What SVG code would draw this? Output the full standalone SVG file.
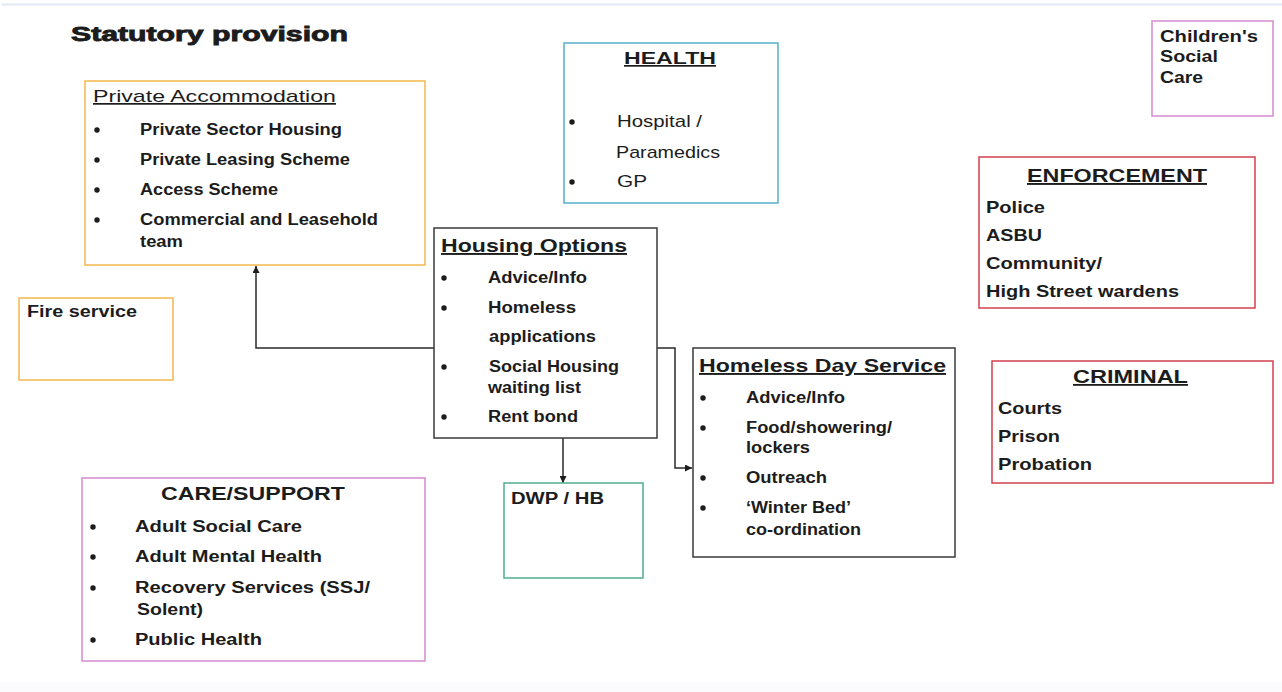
<svg xmlns="http://www.w3.org/2000/svg" width="1282" height="692" viewBox="0 0 1282 692">
<defs>
<style>
text{font-family:"Liberation Sans",Arial,sans-serif;fill:#1c1c1c;}
.b{font-weight:bold;}
.u{text-decoration:underline;}
.box{fill:#fff;stroke-width:1.5;}
.blk{stroke:#3a3a3a;}
.org{stroke:#F3B84E;}
.cyan{stroke:#55B0C8;}
.grn{stroke:#4FAE90;}
.pnk{stroke:#D58ACF;}
.red{stroke:#D2404E;}
.conn{fill:none;stroke:#2a2a2a;stroke-width:1.5;}
.dot{fill:#1c1c1c;}
</style>
<marker id="arr" viewBox="0 0 10 10" refX="10" refY="5" markerWidth="7" markerHeight="7" orient="auto" markerUnits="userSpaceOnUse">
<path d="M0,0 L10,5 L0,10 z" fill="#1c1c1c"/>
</marker>
</defs>
<rect x="0" y="0" width="1282" height="692" fill="#ffffff"/>
<line x1="2" y1="4.5" x2="1282" y2="4.5" stroke="#e2e8f6" stroke-width="2"/>
<rect x="0" y="682" width="1282" height="10" fill="#fbfbfd"/>

<text id="title" class="b" x="71" y="41" font-size="21" textLength="277" lengthAdjust="spacingAndGlyphs" stroke="#1c1c1c" stroke-width="0.9">Statutory provision</text>

<g id="connectors">
<polyline class="conn" points="434,348 256,348 256,266" marker-end="url(#arr)"/>
<line class="conn" x1="563" y1="438" x2="563" y2="483" marker-end="url(#arr)"/>
<polyline class="conn" points="657,348 675,348 675,468 692,468" marker-end="url(#arr)"/>
</g>

<g id="private-accommodation">
<rect class="box org" x="85" y="81" width="340" height="184"/>
<text class="u" x="93" y="102" font-size="17" textLength="243" lengthAdjust="spacingAndGlyphs">Private Accommodation</text>
<circle class="dot" cx="97" cy="130" r="2.7"/>
<circle class="dot" cx="97" cy="160" r="2.7"/>
<circle class="dot" cx="97" cy="190" r="2.7"/>
<circle class="dot" cx="97" cy="220" r="2.7"/>
<text class="b" x="140" y="135" font-size="16" textLength="202" lengthAdjust="spacingAndGlyphs">Private Sector Housing</text>
<text class="b" x="140" y="165" font-size="16" textLength="210" lengthAdjust="spacingAndGlyphs">Private Leasing Scheme</text>
<text class="b" x="140" y="195" font-size="16" textLength="138" lengthAdjust="spacingAndGlyphs">Access Scheme</text>
<text class="b" x="140" y="225" font-size="16" textLength="238" lengthAdjust="spacingAndGlyphs">Commercial and Leasehold</text>
<text class="b" x="140" y="247" font-size="16" textLength="43" lengthAdjust="spacingAndGlyphs">team</text>
</g>

<g id="health">
<rect class="box cyan" x="564" y="43" width="214" height="160"/>
<text class="b u" x="624" y="64" font-size="17" textLength="92" lengthAdjust="spacingAndGlyphs">HEALTH</text>
<circle class="dot" cx="572" cy="122" r="2.7"/>
<circle class="dot" cx="572" cy="182" r="2.7"/>
<text x="617" y="127" font-size="17" textLength="85" lengthAdjust="spacingAndGlyphs">Hospital /</text>
<text x="616" y="158" font-size="17" textLength="104" lengthAdjust="spacingAndGlyphs">Paramedics</text>
<text x="617" y="187" font-size="17" textLength="30" lengthAdjust="spacingAndGlyphs">GP</text>
</g>

<g id="childrens-social-care">
<rect class="box pnk" x="1152" y="21" width="121" height="95"/>
<text class="b" x="1160" y="42" font-size="16" textLength="98" lengthAdjust="spacingAndGlyphs">Children's</text>
<text class="b" x="1160" y="62" font-size="16" textLength="58" lengthAdjust="spacingAndGlyphs">Social</text>
<text class="b" x="1160" y="83" font-size="16" textLength="43" lengthAdjust="spacingAndGlyphs">Care</text>
</g>

<g id="enforcement">
<rect class="box red" x="979" y="157" width="276" height="151"/>
<text class="b u" x="1027" y="182" font-size="19" textLength="180" lengthAdjust="spacingAndGlyphs">ENFORCEMENT</text>
<text class="b" x="986" y="213" font-size="17" textLength="59" lengthAdjust="spacingAndGlyphs">Police</text>
<text class="b" x="986" y="241" font-size="17" textLength="56" lengthAdjust="spacingAndGlyphs">ASBU</text>
<text class="b" x="986" y="269" font-size="17" textLength="116" lengthAdjust="spacingAndGlyphs">Community/</text>
<text class="b" x="986" y="297" font-size="17" textLength="193" lengthAdjust="spacingAndGlyphs">High Street wardens</text>
</g>

<g id="housing-options">
<rect class="box blk" x="434" y="228" width="223" height="210"/>
<text class="b u" x="441" y="252" font-size="19" textLength="186" lengthAdjust="spacingAndGlyphs">Housing Options</text>
<circle class="dot" cx="444" cy="278" r="2.7"/>
<circle class="dot" cx="444" cy="308" r="2.7"/>
<circle class="dot" cx="444" cy="367" r="2.7"/>
<circle class="dot" cx="444" cy="417" r="2.7"/>
<text class="b" x="488" y="283" font-size="16" textLength="99" lengthAdjust="spacingAndGlyphs">Advice/Info</text>
<text class="b" x="488" y="313" font-size="16" textLength="88" lengthAdjust="spacingAndGlyphs">Homeless</text>
<text class="b" x="489" y="342" font-size="16" textLength="107" lengthAdjust="spacingAndGlyphs">applications</text>
<text class="b" x="489" y="372" font-size="16" textLength="130" lengthAdjust="spacingAndGlyphs">Social Housing</text>
<text class="b" x="488" y="393" font-size="16" textLength="93" lengthAdjust="spacingAndGlyphs">waiting list</text>
<text class="b" x="488" y="422" font-size="16" textLength="90" lengthAdjust="spacingAndGlyphs">Rent bond</text>
</g>

<g id="fire-service">
<rect class="box org" x="19" y="298" width="154" height="82"/>
<text class="b" x="27" y="317" font-size="16" textLength="110" lengthAdjust="spacingAndGlyphs">Fire service</text>
</g>

<g id="homeless-day-service">
<rect class="box blk" x="693" y="348" width="262" height="209"/>
<text class="b u" x="699" y="372" font-size="19" textLength="247" lengthAdjust="spacingAndGlyphs">Homeless Day Service</text>
<circle class="dot" cx="703" cy="398" r="2.7"/>
<circle class="dot" cx="703" cy="428" r="2.7"/>
<circle class="dot" cx="703" cy="478" r="2.7"/>
<circle class="dot" cx="703" cy="508" r="2.7"/>
<text class="b" x="746" y="403" font-size="16" textLength="99" lengthAdjust="spacingAndGlyphs">Advice/Info</text>
<text class="b" x="746" y="433" font-size="16" textLength="146" lengthAdjust="spacingAndGlyphs">Food/showering/</text>
<text class="b" x="746" y="453" font-size="16" textLength="64" lengthAdjust="spacingAndGlyphs">lockers</text>
<text class="b" x="746" y="483" font-size="16" textLength="81" lengthAdjust="spacingAndGlyphs">Outreach</text>
<text class="b" x="746" y="513" font-size="16" textLength="105" lengthAdjust="spacingAndGlyphs">‘Winter Bed’</text>
<text class="b" x="746" y="535" font-size="16" textLength="115" lengthAdjust="spacingAndGlyphs">co-ordination</text>
</g>

<g id="criminal">
<rect class="box red" x="992" y="361" width="281" height="122"/>
<text class="b u" x="1073" y="383" font-size="18" textLength="115" lengthAdjust="spacingAndGlyphs">CRIMINAL</text>
<text class="b" x="998" y="414" font-size="17" textLength="64" lengthAdjust="spacingAndGlyphs">Courts</text>
<text class="b" x="998" y="442" font-size="17" textLength="62" lengthAdjust="spacingAndGlyphs">Prison</text>
<text class="b" x="998" y="470" font-size="17" textLength="94" lengthAdjust="spacingAndGlyphs">Probation</text>
</g>

<g id="care-support">
<rect class="box pnk" x="82" y="478" width="343" height="183"/>
<text class="b" x="161" y="500" font-size="19" textLength="184" lengthAdjust="spacingAndGlyphs">CARE/SUPPORT</text>
<circle class="dot" cx="93" cy="527" r="2.7"/>
<circle class="dot" cx="93" cy="557" r="2.7"/>
<circle class="dot" cx="93" cy="588" r="2.7"/>
<circle class="dot" cx="93" cy="640" r="2.7"/>
<text class="b" x="135" y="532" font-size="16" textLength="167" lengthAdjust="spacingAndGlyphs">Adult Social Care</text>
<text class="b" x="135" y="562" font-size="16" textLength="187" lengthAdjust="spacingAndGlyphs">Adult Mental Health</text>
<text class="b" x="135" y="593" font-size="16" textLength="235" lengthAdjust="spacingAndGlyphs">Recovery Services (SSJ/</text>
<text class="b" x="137" y="615" font-size="16" textLength="66" lengthAdjust="spacingAndGlyphs">Solent)</text>
<text class="b" x="135" y="645" font-size="16" textLength="127" lengthAdjust="spacingAndGlyphs">Public Health</text>
</g>

<g id="dwp-hb">
<rect class="box grn" x="504" y="483" width="139" height="95"/>
<text class="b" x="511" y="504" font-size="16" textLength="93" lengthAdjust="spacingAndGlyphs">DWP / HB</text>
</g>
</svg>
